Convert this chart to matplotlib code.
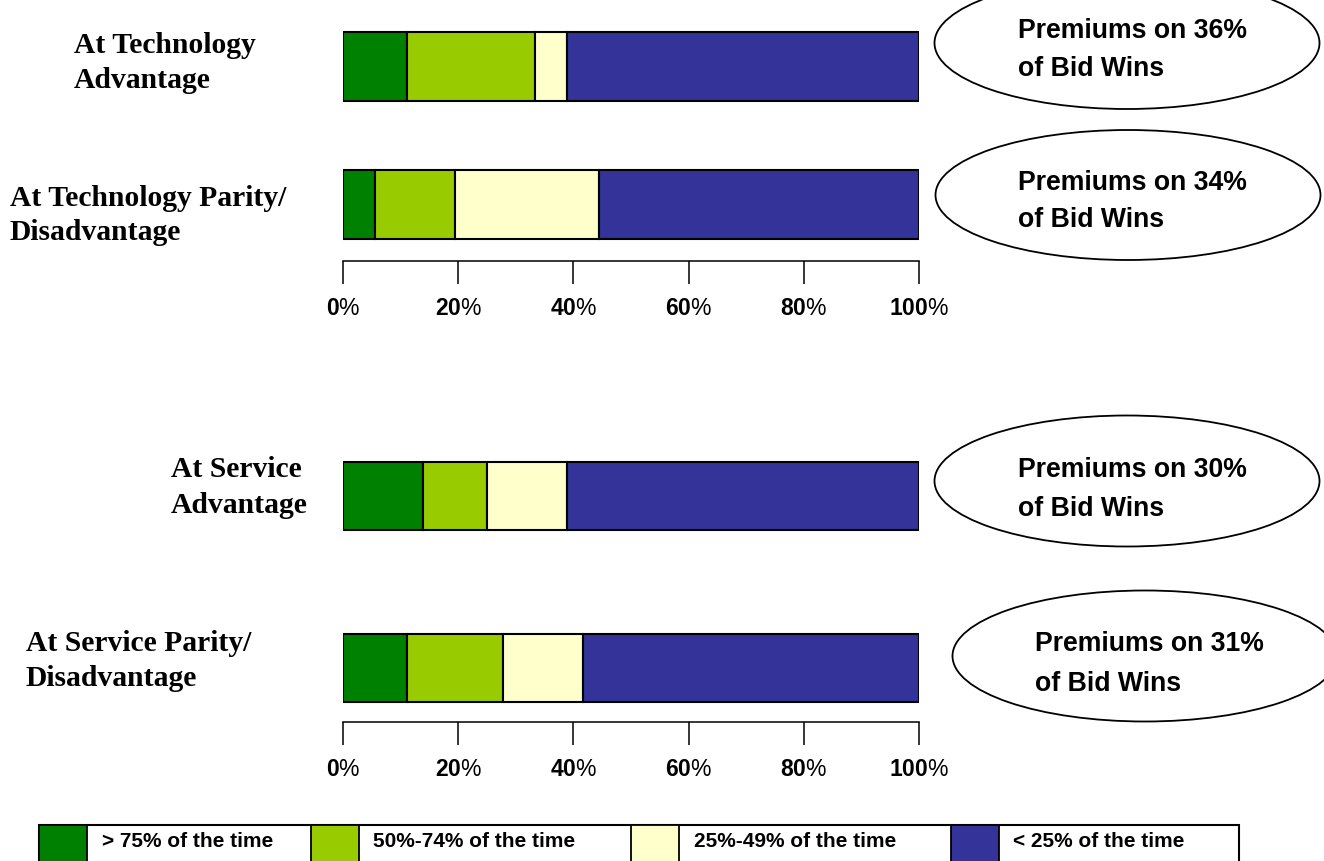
import matplotlib
matplotlib.use("Agg")
import matplotlib.pyplot as plt
from matplotlib.patches import Ellipse, Rectangle

# ---------------- data ----------------
categories_top = ["At Technology\nAdvantage", "At Technology Parity/\nDisadvantage"]
categories_bottom = ["At Service\nAdvantage", "At Service Parity/\nDisadvantage"]
gt75 = [11.1, 5.6, 13.9, 11.1]        # > 75% of the time
p50_74 = [22.2, 13.9, 11.1, 16.7]     # 50%-74% of the time
p25_49 = [5.6, 25.0, 13.9, 13.9]      # 25%-49% of the time
lt25 = [61.1, 55.5, 61.1, 58.3]       # < 25% of the time
premiums = [36, 34, 30, 31]
legend_labels = ["> 75% of the time", "50%-74% of the time",
                 "25%-49% of the time", "< 25% of the time"]
tick_values = [0, 20, 40, 60, 80, 100]
colors = ["#008000", "#99CC00", "#FFFFCC", "#333399"]

plt.rcParams["mathtext.fontset"] = "custom"
plt.rcParams["mathtext.bf"] = "Liberation Sans:bold"
plt.rcParams["mathtext.rm"] = "Liberation Sans"

W, H = 1324, 862
fig = plt.figure(figsize=(W / 100, H / 100), dpi=100)

def px_axes(x0, x1, y_top, y_bot):
    return fig.add_axes([x0 / W, 1 - y_bot / H, (x1 - x0) / W, (y_bot - y_top) / H])

series = [gt75, p50_74, p25_49, lt25]

def draw_panel(ax, idx, bar_h, ylim):
    ypos = [0, 1]
    left = [0.0, 0.0]
    for s, c in zip(series, colors):
        vals = [s[i] for i in idx]
        ax.barh(ypos, vals, left=left, height=bar_h, color=c,
                edgecolor="black", linewidth=1.5, zorder=2)
        left = [l + v for l, v in zip(left, vals)]
    ax.set_xlim(0, 100)
    ax.set_ylim(*ylim)
    for sp in ["top", "left", "right"]:
        ax.spines[sp].set_visible(False)
    ax.spines["bottom"].set_linewidth(1.1)
    ax.set_yticks([])
    ax.set_xticks(tick_values)
    ax.set_xticklabels([r"$\mathbf{%d}$%%" % t for t in tick_values],
                       fontsize=16.5, family="Liberation Sans")
    ax.tick_params(axis="x", direction="out", length=16.5, width=1.1, pad=9)
    ax.patch.set_alpha(0)

ax1 = px_axes(343, 919, 20, 262)
draw_panel(ax1, [0, 1], 0.5, (1.413, -0.341))
ax2 = px_axes(343, 919, 440, 723)
draw_panel(ax2, [2, 3], 0.395, (1.314, -0.331))

# overlay in figure pixel coordinates
ov = fig.add_axes([0, 0, 1, 1])
ov.set_xlim(0, W)
ov.set_ylim(H, 0)
ov.axis("off")
ov.patch.set_alpha(0)

# category labels
cat_pos = [(74, 53, 88), (10, 206, 240), (171, 477, 513), (26, 651, 686)]
for label, (x, b1, b2) in zip(categories_top + categories_bottom, cat_pos):
    l1, l2 = label.split("\n")
    ov.text(x, b1, l1, family="Liberation Serif", weight="bold", fontsize=21.3,
            ha="left", va="baseline")
    ov.text(x, b2, l2, family="Liberation Serif", weight="bold", fontsize=21.3,
            ha="left", va="baseline")

# ellipses with premium notes
ell = [(1127, 44, 385, 132, 1018, 37.5, 76.5),
       (1128, 196, 385, 130, 1018, 189.5, 227.5),
       (1127, 482, 385, 131, 1018, 477.5, 516.5),
       (1145, 657, 385, 131, 1035, 651.5, 691.5)]
for p, (cx, cy, ew, eh, tx, b1, b2) in zip(premiums, ell):
    ov.add_patch(Ellipse((cx, cy), ew, eh, facecolor="white", edgecolor="black",
                         linewidth=1.3, zorder=1))
    ov.text(tx, b1, "Premiums on %d%%" % p, family="Liberation Sans",
            weight="bold", fontsize=19.2, ha="left", va="baseline", zorder=3)
    ov.text(tx, b2, "of Bid Wins", family="Liberation Sans",
            weight="bold", fontsize=19.2, ha="left", va="baseline", zorder=3)

# legend table
box_top, box_bot = 826, 880
ov.add_patch(Rectangle((39, box_top), 1239 - 39, box_bot - box_top,
                       facecolor="white", edgecolor="black", linewidth=1.5, zorder=1))
swatch_x = [39, 311, 631, 951]
text_x = [102, 373, 694, 1013]
for sx, tx, c, lab in zip(swatch_x, text_x, colors, legend_labels):
    ov.add_patch(Rectangle((sx, box_top), 48, box_bot - box_top,
                           facecolor=c, edgecolor="black", linewidth=1.3, zorder=2))
    ov.text(tx, 842, lab, family="Liberation Sans", weight="bold",
            fontsize=15, ha="left", va="center", zorder=3)

fig.savefig("out.png", dpi=100)
